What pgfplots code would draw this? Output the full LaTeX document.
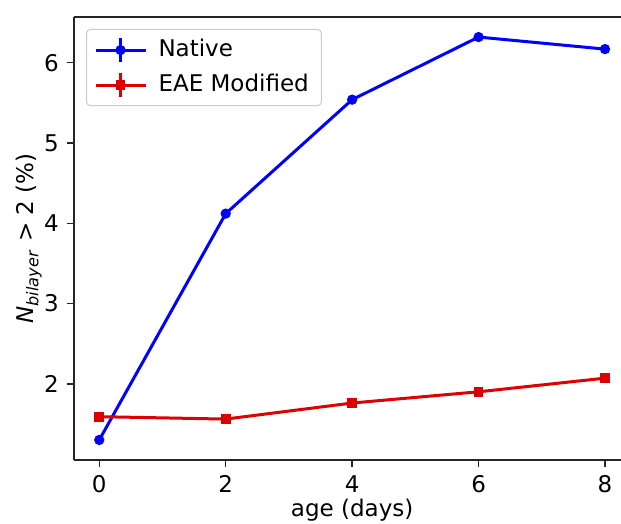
\documentclass[border=0pt]{standalone}
\usepackage{fontspec}
\setmainfont{DejaVu Sans}
\usepackage{pgfplots}
\pgfplotsset{compat=1.18}
\definecolor{nblue}{RGB}{0,0,255}
\definecolor{ered}{RGB}{220,0,0}
\begin{document}
\begin{tikzpicture}
\useasboundingbox (-29.6pt,-25.2pt) rectangle (218.8pt,184pt);
\begin{axis}[
  at={(0,0)}, anchor=south west,
  scale only axis, width=218.8pt, height=177.2pt,
  xmin=-0.4, xmax=8.253, ymin=1.05, ymax=6.57,
  axis x line*=box, axis y line*=left,
  xtick pos=bottom, ytick pos=left,
  xtick={0,2,4,6,8}, ytick={2,3,4,5,6},
  tick align=outside, major tick length=2.6pt,
  axis line style={line width=0.6pt, black!85},
  every tick/.style={line width=0.6pt, black!85},
  /pgf/number format/assume math mode=true,
  tick label style={font=\fontsize{9.2}{11}\selectfont},
  label style={font=\fontsize{9.2}{11}\selectfont},
  xlabel={age (days)},
  ylabel={\textit{N}\textsubscript{\textit{bilayer}} > 2 (\%)},
  xlabel style={at={(axis description cs:0.5085,0)}, anchor=center, yshift=-20pt},
  ylabel style={at={(axis description cs:0,0.5)}, anchor=center, rotate=0, yshift=18pt},
  legend style={at={(0.022,0.973)}, anchor=north west, draw=black!20, rounded corners=1.5pt,
    font=\fontsize{9.2}{11}\selectfont, inner xsep=3pt, inner ysep=2pt, row sep=1.5pt},
  legend cell align=left,
  legend image code/.code={
    \draw[mark repeat=2,mark phase=2,#1] plot coordinates {(0pt,0pt) (10pt,0pt) (20pt,0pt)};
    \draw[#1,mark=none] (10pt,-4.8pt) -- (10pt,4.8pt);
    \path (22.6pt,0pt);},
]
\addplot[nblue, line width=1.2pt, mark=*, mark size=1.85pt, mark options={solid, line width=0.4pt}] coordinates {
  (0,1.30) (2,4.12) (4,5.54) (6,6.32) (8,6.17)};
\addlegendentry{Native}
\addplot[ered, line width=1.2pt, mark=square*, mark size=1.75pt, mark options={solid, line width=0.4pt}] coordinates {
  (0,1.59) (2,1.56) (4,1.76) (6,1.90) (8,2.07)};
\addlegendentry{EAE Modified}
\end{axis}
\end{tikzpicture}
\end{document}
